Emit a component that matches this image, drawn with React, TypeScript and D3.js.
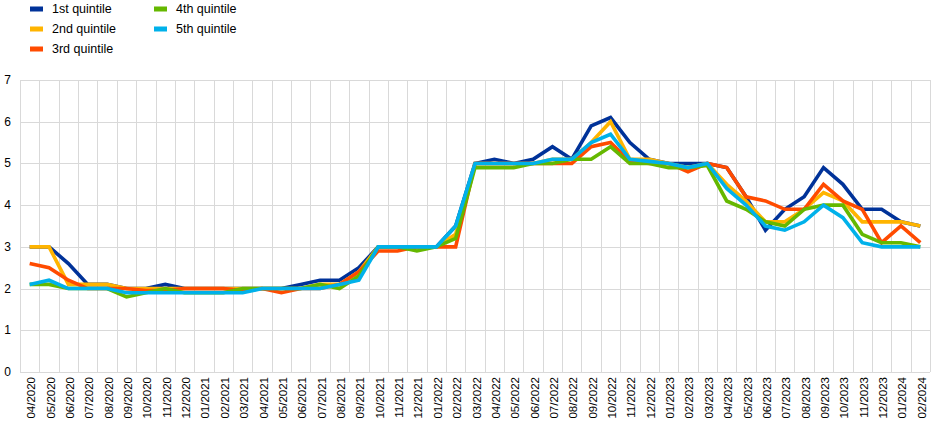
import React from "react";
import * as d3 from "d3";

const months: string[] = [
  "04/2020","05/2020","06/2020","07/2020","08/2020","09/2020","10/2020","11/2020","12/2020",
  "01/2021","02/2021","03/2021","04/2021","05/2021","06/2021","07/2021","08/2021","09/2021","10/2021","11/2021","12/2021",
  "01/2022","02/2022","03/2022","04/2022","05/2022","06/2022","07/2022","08/2022","09/2022","10/2022","11/2022","12/2022",
  "01/2023","02/2023","03/2023","04/2023","05/2023","06/2023","07/2023","08/2023","09/2023","10/2023","11/2023","12/2023",
  "01/2024","02/2024",
];

const q1: number[] = [3.0,3.0,2.6,2.1,2.1,2.0,2.0,2.1,2.0,2.0,2.0,2.0,2.0,2.0,2.1,2.2,2.2,2.5,3.0,3.0,3.0,3.0,3.5,5.0,5.1,5.0,5.1,5.4,5.1,5.9,6.1,5.5,5.1,5.0,5.0,5.0,4.9,4.2,3.4,3.9,4.2,4.9,4.5,3.9,3.9,3.6,3.5];
const q2: number[] = [3.0,3.0,2.1,2.1,2.1,2.0,2.0,2.0,2.0,2.0,2.0,2.0,2.0,2.0,2.0,2.1,2.1,2.4,3.0,3.0,3.0,3.0,3.3,5.0,5.0,5.0,5.0,5.1,5.1,5.5,6.0,5.1,5.1,5.0,4.9,5.0,4.5,4.1,3.6,3.6,3.9,4.3,4.1,3.6,3.6,3.6,3.5];
const q3: number[] = [2.6,2.5,2.2,2.0,2.0,2.0,1.95,1.95,2.0,2.0,2.0,1.95,2.0,1.9,2.0,2.0,2.1,2.4,2.9,2.9,3.0,3.0,3.0,5.0,5.0,5.0,5.0,5.0,5.0,5.4,5.5,5.05,5.0,5.0,4.8,5.0,4.9,4.2,4.1,3.9,3.9,4.5,4.1,3.9,3.1,3.5,3.1];
const q4: number[] = [2.1,2.1,2.0,2.0,2.0,1.8,1.9,2.0,1.9,1.9,1.9,2.0,2.0,2.0,2.0,2.1,2.0,2.3,3.0,3.0,2.9,3.0,3.2,4.9,4.9,4.9,5.0,5.0,5.1,5.1,5.4,5.0,5.0,4.9,4.9,4.95,4.1,3.9,3.6,3.5,3.9,4.0,4.0,3.3,3.1,3.1,3.0];
const q5: number[] = [2.1,2.2,2.0,2.0,2.0,1.9,1.9,1.9,1.9,1.9,1.9,1.9,2.0,2.0,2.0,2.0,2.1,2.2,3.0,3.0,3.0,3.0,3.5,5.0,5.0,5.0,5.0,5.1,5.1,5.5,5.7,5.1,5.05,5.0,4.9,5.0,4.4,4.0,3.5,3.4,3.6,4.0,3.7,3.1,3.0,3.0,3.0];

const seriesNames: string[] = ["1st quintile", "2nd quintile", "3rd quintile", "4th quintile", "5th quintile"];
const seriesColors: string[] = ["#003299", "#ffb400", "#ff4b00", "#65b800", "#00b1ea"];
const seriesValues: number[][] = [q1, q2, q3, q4, q5];
const yTicks: number[] = [0, 1, 2, 3, 4, 5, 6, 7];

const W = 945;
const H = 433;
const FONT = "'Liberation Sans', Arial, sans-serif";

export default function App() {
  const x = d3.scaleBand<string>().domain(months).range([20, 930]).padding(0);
  const y = d3.scaleLinear().domain([0, 7]).range([372, 80]);
  const bw = x.bandwidth();
  const line = d3
    .line<number>()
    .x((_, i) => (x(months[i]) as number) + bw / 2)
    .y((v) => y(v));

  const vLines = [...months.map((m) => x(m) as number), 930];

  const legendPos = [
    { x: 30, y: 9 },
    { x: 30, y: 29 },
    { x: 30, y: 49 },
    { x: 154, y: 9 },
    { x: 154, y: 29 },
  ];

  return (
    <svg
      width={W}
      height={H}
      style={{ position: "absolute", left: 0, top: 0, background: "#fff" }}
      fontFamily={FONT}
    >
      <rect x={0} y={0} width={W} height={H} fill="#fff" />
      <g stroke="#d9d9d9" strokeWidth={1}>
        {yTicks.map((t) => (
          <line key={"h" + t} x1={20} x2={930} y1={Math.round(y(t)) + 0.5} y2={Math.round(y(t)) + 0.5} />
        ))}
        {vLines.map((v, i) => (
          <line key={"v" + i} x1={Math.round(v) + 0.5} x2={Math.round(v) + 0.5} y1={80} y2={372} />
        ))}
      </g>
      <g fontSize={12} fill="#000">
        {yTicks.map((t) => (
          <text key={"yt" + t} x={11} y={y(t)} textAnchor="end" dominantBaseline="central">
            {t}
          </text>
        ))}
      </g>
      <g fontSize={11.5} fill="#000">
        {months.map((m) => {
          const cx = (x(m) as number) + bw / 2 + 1.5;
          return (
            <text
              key={"xt" + m}
              transform={`translate(${cx},377) rotate(-90)`}
              textAnchor="end"
              dominantBaseline="central"
            >
              {m}
            </text>
          );
        })}
      </g>
      <g fill="none" strokeWidth={3.6} strokeLinejoin="miter" strokeLinecap="butt">
        {seriesValues.map((vals, si) => (
          <path key={"s" + si} d={line(vals) as string} stroke={seriesColors[si]} />
        ))}
      </g>
      <g fontSize={12.5} fill="#000">
        {seriesNames.map((n, i) => (
          <g key={"lg" + i} transform={`translate(${legendPos[i].x},${legendPos[i].y})`}>
            <rect x={0} y={-2.5} width={13} height={5} fill={seriesColors[i]} />
            <text x={22} y={0} dominantBaseline="central">
              {n}
            </text>
          </g>
        ))}
      </g>
    </svg>
  );
}
